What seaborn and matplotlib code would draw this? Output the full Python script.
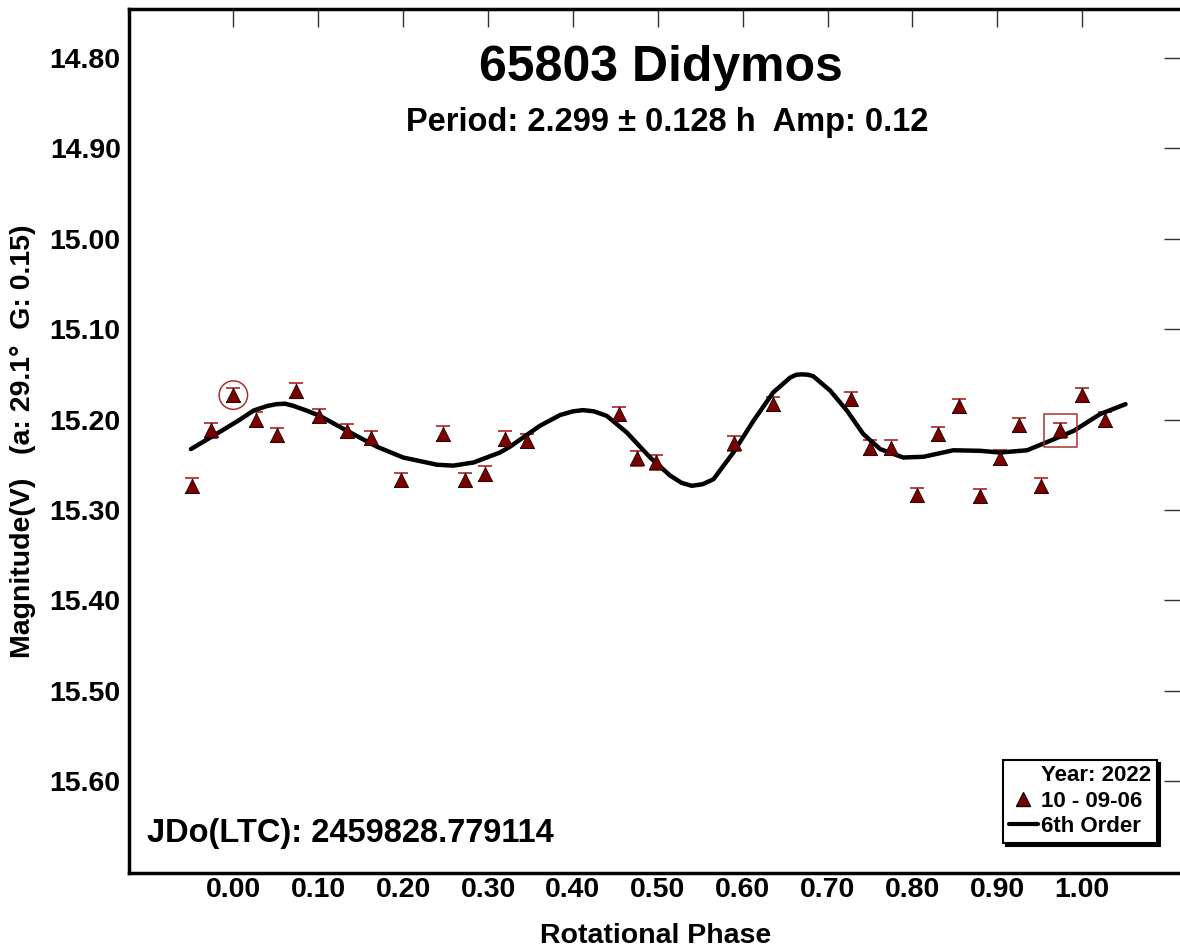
import numpy as np
import pandas as pd
import matplotlib
matplotlib.use("Agg")
import matplotlib.pyplot as plt
from matplotlib.lines import Line2D
import seaborn as sns

# Observed magnitudes folded on the rotation period (phase 0..1)
phase = [0.000, 0.027, 0.051, 0.074, 0.101, 0.134, 0.162, 0.197, 0.247, 0.273,
         0.296, 0.320, 0.3465, 0.454, 0.476, 0.498, 0.590, 0.636, 0.7275, 0.750,
         0.7746, 0.805, 0.8295, 0.855, 0.880, 0.9026, 0.925, 0.951, 0.974]
mag = [15.173, 15.200, 15.217, 15.168, 15.196, 15.2125, 15.2205, 15.267, 15.2155, 15.267,
       15.2597, 15.221, 15.2236, 15.194, 15.243, 15.2475, 15.2265, 15.183, 15.1775, 15.231,
       15.231, 15.2835, 15.2158, 15.185, 15.2843, 15.242, 15.206, 15.273, 15.212]
mag_err = [0.008] * len(phase)

# 6th-order Fourier fit as drawn
fit_phase = [-0.050, -0.020, 0.008, 0.024, 0.040, 0.051, 0.061, 0.071, 0.086, 0.102,
             0.134, 0.169, 0.200, 0.240, 0.259, 0.283, 0.314, 0.326, 0.361, 0.385,
             0.400, 0.412, 0.425, 0.440, 0.4635, 0.491, 0.5145, 0.528, 0.540, 0.553,
             0.5656, 0.589, 0.6127, 0.636, 0.656, 0.663, 0.670, 0.677, 0.683, 0.703,
             0.7227, 0.742, 0.762, 0.789, 0.813, 0.848, 0.880, 0.903, 0.935, 0.962,
             0.990, 1.021, 1.051]
fit_mag = [15.2327, 15.216, 15.200, 15.190, 15.185, 15.183, 15.1825, 15.185, 15.190, 15.196,
           15.2125, 15.230, 15.242, 15.250, 15.251, 15.2475, 15.2365, 15.230, 15.207, 15.195,
           15.191, 15.1896, 15.191, 15.196, 15.2144, 15.242, 15.262, 15.270, 15.2733, 15.2715,
           15.266, 15.2365, 15.2014, 15.170, 15.1536, 15.1505, 15.150, 15.1505, 15.152, 15.168,
           15.190, 15.216, 15.2327, 15.242, 15.2412, 15.234, 15.2346, 15.2365, 15.234, 15.2236,
           15.2125, 15.194, 15.183]

x_ticks = [0.0, 0.1, 0.2, 0.3, 0.4, 0.5, 0.6, 0.7, 0.8, 0.9, 1.0]
y_ticks = [14.8, 14.9, 15.0, 15.1, 15.2, 15.3, 15.4, 15.5, 15.6]

title = "65803 Didymos"
subtitle = "Period: 2.299 \u00b1 0.128 h  Amp: 0.12"
jd_text = "JDo(LTC): 2459828.779114"
y_label = "Magnitude(V)   (a: 29.1\u00b0  G: 0.15)"
x_label = "Rotational Phase"
legend_labels = ["Year: 2022", "10 - 09-06", "6th Order"]

# Points near the phase edges are repeated one cycle over
obs = pd.DataFrame({"phase": phase, "mag": mag, "err": mag_err})
lead = obs[obs.phase > 0.95].assign(phase=lambda d: d.phase - 1)
tail = obs[obs.phase < 0.05].assign(phase=lambda d: d.phase + 1)
pts = pd.concat([obs, lead, tail], ignore_index=True)
fit = pd.DataFrame({"phase": fit_phase, "mag": fit_mag})

sns.set_theme(style="white")
plt.rcParams["font.family"] = ["Liberation Sans", "DejaVu Sans"]
plt.rcParams["font.weight"] = "bold"
for key in ("text.color", "axes.labelcolor", "xtick.color", "ytick.color",
            "xtick.labelcolor", "ytick.labelcolor"):
    plt.rcParams[key] = "black"

fig = plt.figure(figsize=(11.8, 9.5), dpi=100)
ax = fig.add_axes([129 / 1180, 1 - 873 / 950, 1053 / 1180, 864 / 950])

dark_red = "#7a0000"
ax.errorbar(pts.phase, pts.mag, yerr=pts.err, fmt="none", ecolor="#b02020",
            elinewidth=1.0, capsize=5, capthick=1.2, zorder=2)
sns.lineplot(data=fit, x="phase", y="mag", color="black", lw=3.2, sort=False,
             ax=ax, zorder=3)
sns.scatterplot(data=pts, x="phase", y="mag", marker="^", s=105, color=dark_red,
                edgecolor="#1a0000", linewidth=0.6, ax=ax, zorder=4)

# Highlighted observations: first point circled, last point boxed
ax.scatter([phase[0]], [mag[0]], s=420, marker="o", facecolors="none",
           edgecolors="#a83030", linewidths=1.1, zorder=5)
ax.scatter([phase[-1]], [mag[-1]], s=560, marker="s", facecolors="none",
           edgecolors="#a83030", linewidths=1.1, zorder=5)

ax.set_xlim(-0.1229, 1.1175)
ax.set_ylim(15.7015, 14.746)
ax.set_xticks(x_ticks)
ax.set_xticklabels([f"{v:.2f}" for v in x_ticks])
ax.set_yticks(y_ticks)
ax.set_yticklabels([f"{v:.2f}" for v in y_ticks])
ax.tick_params(axis="both", which="major", direction="in", length=13, width=1.0,
               color="#333333", labelsize=20.5, top=True, right=True)
ax.tick_params(axis="x", pad=3)
ax.tick_params(axis="y", pad=6)
for lab in ax.get_xticklabels() + ax.get_yticklabels():
    lab.set_fontweight("bold")
for sp in ax.spines.values():
    sp.set_linewidth(2.5)
    sp.set_color("black")

ax.set_xlabel(x_label, fontsize=20.5, fontweight="bold", labelpad=14)
ax.set_ylabel(y_label, fontsize=20.5, fontweight="bold", labelpad=10)

ax.text(0.505, 0.932, title, transform=ax.transAxes, ha="center", va="center",
        fontsize=36, fontweight="bold")
ax.text(0.511, 0.869, subtitle, transform=ax.transAxes, ha="center", va="center",
        fontsize=23.5, fontweight="bold")
ax.text(0.017, 0.046, jd_text, transform=ax.transAxes, ha="left", va="center",
        fontsize=23.5, fontweight="bold")

handles = [Line2D([], [], linestyle="none"),
           Line2D([], [], linestyle="none", marker="^", markersize=10,
                  markerfacecolor=dark_red, markeredgecolor="#1a0000"),
           Line2D([], [], color="black", lw=3)]
leg = ax.legend(handles, legend_labels, loc="lower right",
                bbox_to_anchor=(0.976, 0.035), borderaxespad=0, frameon=True,
                fancybox=False, shadow={"color": "black", "alpha": 1.0},
                prop={"size": 16, "weight": "bold"}, handlelength=1.3,
                handletextpad=0.15, labelspacing=0.2, borderpad=0.25)
leg.get_frame().set_edgecolor("black")
leg.get_frame().set_linewidth(1.5)

fig.savefig("out.png", dpi=100, facecolor="white")
